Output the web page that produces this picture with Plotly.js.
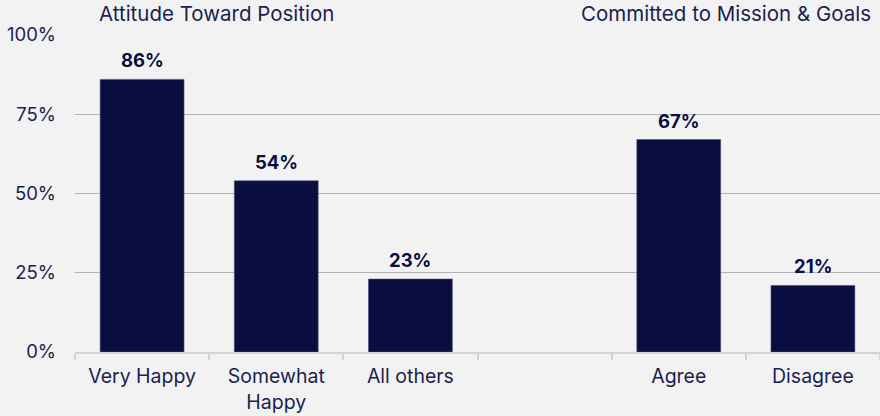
<!DOCTYPE html>
<html>
<head>
<meta charset="utf-8">
<script src="https://cdn.plot.ly/plotly-3.0.1.min.js"></script>
<style>html,body{margin:0;padding:0;background:#f2f2f2;}#chart{width:880px;height:416px;}</style>
</head>
<body>
<div id="chart"></div>
<script>
const categories = ["Very Happy", "Somewhat<br>Happy", "All others", " ", "Agree", "Disagree"];
const values = [0.86, 0.54, 0.23, null, 0.67, 0.21];
const groupTitles = ["Attitude Toward Position", "Committed to Mission & Goals"];
const yTicks = [0, 0.25, 0.5, 0.75, 1];

const navy = "#0a0d40";
const textCol = "#1b1f4f";
const fam = "Inter, sans-serif";

const trace = {
  type: "bar",
  x: categories,
  y: values,
  marker: {color: navy, line: {color: "#4a4e78", width: 0.6}},
  width: 0.625,
  cliponaxis: false,
  hoverinfo: "skip"
};

const labelAnns = [];
categories.forEach((c, i) => {
  if (values[i] === null) return;
  labelAnns.push({
    x: c, y: values[i], xref: "x", yref: "y",
    text: "<b>" + Math.round(values[i] * 100) + "%</b>",
    showarrow: false, xanchor: "center", yanchor: "bottom", yshift: 6,
    font: {family: fam, size: 18.5, color: navy}
  });
});

const layout = {
  width: 880, height: 416,
  paper_bgcolor: "#f2f2f2", plot_bgcolor: "#f2f2f2",
  margin: {l: 75, r: 0, t: 35, b: 64},
  showlegend: false,
  font: {family: fam, size: 16, color: textCol},
  xaxis: {
    type: "category",
    categoryorder: "array", categoryarray: categories,
    range: [-0.5, 5.5],
    showline: true, linecolor: "#d3d3d3", linewidth: 2,
    ticks: "outside", tickson: "boundaries", tickcolor: "#d3d3d3", ticklen: 6, tickwidth: 2,
    ticklabelstandoff: 6,
    tickfont: {family: fam, size: 19.5, color: textCol},
    showgrid: false, zeroline: false, fixedrange: true
  },
  yaxis: {
    range: [0, 1],
    tickvals: yTicks,
    tickformat: ".0%",
    gridcolor: "#b4b4b4", gridwidth: 1,
    zeroline: false, showline: false,
    ticks: "", ticklabelstandoff: 18,
    tickfont: {family: fam, size: 18.5, color: textCol},
    fixedrange: true
  },
  annotations: labelAnns.concat([
    {text: groupTitles[0], xref: "paper", yref: "paper", x: (216 - 75) / 805, y: 1, yshift: 22, xanchor: "center", yanchor: "middle", showarrow: false, font: {family: fam, size: 20.5, color: textCol}},
    {text: groupTitles[1], xref: "paper", yref: "paper", x: (726 - 75) / 805, y: 1, yshift: 22, xanchor: "center", yanchor: "middle", showarrow: false, font: {family: fam, size: 20.5, color: textCol}}
  ])
};

Plotly.newPlot("chart", [trace], layout, {displayModeBar: false, staticPlot: true});
</script>
</body>
</html>
